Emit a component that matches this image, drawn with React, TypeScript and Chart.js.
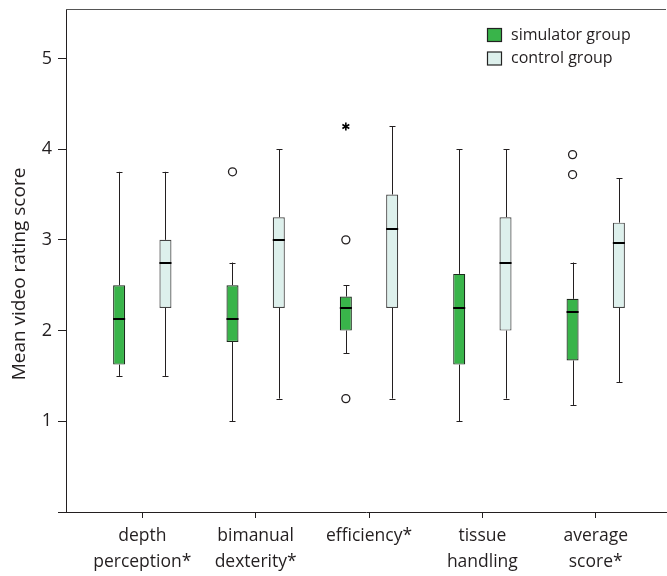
import React, { useEffect, useRef } from 'react';
import { Chart, registerables } from 'chart.js';

Chart.register(...registerables);

// ---- data ----
const categoryLabels: string[][] = [
  ['depth', 'perception*'],
  ['bimanual', 'dexterity*'],
  ['efficiency*'],
  ['tissue', 'handling'],
  ['average', 'score*'],
];
const categoryPositions = [1, 2, 3, 4, 5];
const yTickValues = [0, 1, 2, 3, 4, 5];
const yTickLabels = ['', '1', '2', '3', '4', '5'];
const yAxisTitle = 'Mean video rating score';
const seriesNames = ['simulator group', 'control group'];

// simulator group
const simMin = [1.5, 1.0, 1.75, 1.0, 1.18];
const simQ1 = [1.625, 1.875, 2.0, 1.625, 1.67];
const simMedian = [2.125, 2.125, 2.25, 2.25, 2.2];
const simQ3 = [2.5, 2.5, 2.375, 2.625, 2.35];
const simMax = [3.75, 2.75, 2.5, 4.0, 2.75];
const simOutliers: number[][] = [[], [3.75], [3.0, 1.25], [], [3.94, 3.72]];
const simExtremes: number[][] = [[], [], [4.25], [], []];

// control group
const ctrlMin = [1.5, 1.25, 1.25, 1.25, 1.43];
const ctrlQ1 = [2.25, 2.25, 2.25, 2.0, 2.25];
const ctrlMedian = [2.75, 3.0, 3.125, 2.75, 2.96];
const ctrlQ3 = [3.0, 3.25, 3.5, 3.25, 3.19];
const ctrlMax = [3.75, 4.0, 4.25, 4.0, 3.68];
const ctrlOutliers: number[][] = [[], [], [], [], []];
const ctrlExtremes: number[][] = [[], [], [], [], []];

const FONT = '"Open Sans", "Noto Sans", sans-serif';
const INK = '#231f20';
const SIM_FILL = '#39b44a';
const CTRL_FILL = '#ddf0ec';

const boxPlugin = {
  id: 'boxExtras',
  afterDatasetsDraw(chart: any) {
    const ctx = chart.ctx;
    const ys = chart.scales.y;
    chart.data.datasets.forEach((ds: any, di: number) => {
      const meta = chart.getDatasetMeta(di);
      const st = ds.stats;
      meta.data.forEach((el: any, i: number) => {
        const x = Math.round(el.x) + 0.5;
        const w = el.width;
        const pMin = ys.getPixelForValue(st.min[i]);
        const pQ1 = ys.getPixelForValue(st.q1[i]);
        const pQ3 = ys.getPixelForValue(st.q3[i]);
        const pMax = ys.getPixelForValue(st.max[i]);
        const pMed = ys.getPixelForValue(st.median[i]);
        ctx.save();
        ctx.strokeStyle = INK;
        ctx.lineWidth = 1;
        ctx.beginPath();
        ctx.moveTo(x, pQ3);
        ctx.lineTo(x, pMax);
        ctx.moveTo(x, pQ1);
        ctx.lineTo(x, pMin);
        ctx.moveTo(x - 3, Math.round(pMax) + 0.5);
        ctx.lineTo(x + 3, Math.round(pMax) + 0.5);
        ctx.moveTo(x - 3, Math.round(pMin) + 0.5);
        ctx.lineTo(x + 3, Math.round(pMin) + 0.5);
        ctx.stroke();
        // median
        ctx.lineWidth = 2;
        ctx.strokeStyle = '#000';
        ctx.beginPath();
        ctx.moveTo(el.x - w / 2, Math.round(pMed));
        ctx.lineTo(el.x + w / 2, Math.round(pMed));
        ctx.stroke();
        // outliers
        ctx.lineWidth = 1.3;
        ctx.strokeStyle = INK;
        ctx.fillStyle = '#fff';
        st.outliers[i].forEach((v: number) => {
          const py = ys.getPixelForValue(v);
          ctx.beginPath();
          ctx.arc(el.x, py, 4, 0, Math.PI * 2);
          ctx.fill();
          ctx.stroke();
        });
        // extremes (asterisk)
        ctx.lineWidth = 1.6;
        ctx.strokeStyle = '#000';
        st.extremes[i].forEach((v: number) => {
          const py = ys.getPixelForValue(v);
          ctx.beginPath();
          for (let k = 0; k < 3; k++) {
            const a = Math.PI / 2 + (k * Math.PI) / 3;
            ctx.moveTo(el.x + Math.cos(a) * 4, py - Math.sin(a) * 4);
            ctx.lineTo(el.x - Math.cos(a) * 4, py + Math.sin(a) * 4);
          }
          ctx.stroke();
        });
        ctx.restore();
      });
    });
  },
  afterDraw(chart: any) {
    const ctx = chart.ctx;
    const ca = chart.chartArea;
    ctx.save();
    // top frame line
    ctx.strokeStyle = '#555';
    ctx.lineWidth = 1;
    ctx.beginPath();
    ctx.moveTo(ca.left, Math.round(ca.top) + 0.5);
    ctx.lineTo(ca.right, Math.round(ca.top) + 0.5);
    ctx.stroke();
    // y axis title
    ctx.fillStyle = INK;
    ctx.font = '19px ' + FONT;
    ctx.textAlign = 'center';
    ctx.textBaseline = 'middle';
    ctx.translate(20, 274);
    ctx.rotate(-Math.PI / 2);
    ctx.fillText(yAxisTitle, 0, 0);
    ctx.restore();
    // legend
    ctx.save();
    ctx.font = '16px ' + FONT;
    ctx.textAlign = 'left';
    ctx.textBaseline = 'middle';
    chart.data.datasets.forEach((ds: any, di: number) => {
      const cy = 35 + di * 23.5;
      ctx.fillStyle = ds.backgroundColor;
      ctx.fillRect(487.5, cy - 6.5, 14, 13);
      ctx.strokeStyle = '#222';
      ctx.lineWidth = 1.2;
      ctx.strokeRect(487.5, cy - 6.5, 14, 13);
      ctx.fillStyle = INK;
      ctx.fillText(ds.label, 511, cy);
    });
    ctx.restore();
  },
};

function makeData(q1: number[], q3: number[]) {
  return categoryPositions.map((x, i) => ({ x, y: [q1[i], q3[i]] }));
}

export default function App() {
  const ref = useRef<HTMLCanvasElement>(null);
  useEffect(() => {
    document.body.style.margin = '0';
    const chart = new Chart(ref.current as HTMLCanvasElement, {
      type: 'bar',
      data: {
        datasets: [
          {
            label: seriesNames[0],
            data: makeData(simQ1, simQ3) as any,
            backgroundColor: SIM_FILL,
            borderColor: '#1d2a1d',
            borderWidth: 1.2,
            borderSkipped: false,
            stats: { min: simMin, q1: simQ1, median: simMedian, q3: simQ3, max: simMax, outliers: simOutliers, extremes: simExtremes },
          } as any,
          {
            label: seriesNames[1],
            data: makeData(ctrlQ1, ctrlQ3) as any,
            backgroundColor: CTRL_FILL,
            borderColor: '#444',
            borderWidth: 1.2,
            borderSkipped: false,
            stats: { min: ctrlMin, q1: ctrlQ1, median: ctrlMedian, q3: ctrlQ3, max: ctrlMax, outliers: ctrlOutliers, extremes: ctrlExtremes },
          } as any,
        ],
      },
      options: {
        responsive: false,
        animation: false,
        devicePixelRatio: 1,
        categoryPercentage: 0.817,
        barPercentage: 0.26,
        layout: { padding: { top: 9, right: 1, left: 0, bottom: 0 } },
        plugins: { legend: { display: false }, tooltip: { enabled: false } },
        scales: {
          x: {
            type: 'linear',
            offset: false,
            min: 0.327,
            max: 5.62,
            afterFit: (s: any) => { s.height = 64; s.paddingLeft = 0; s.paddingRight = 0; },
            afterBuildTicks: (s: any) => { s.ticks = categoryPositions.map((v) => ({ value: v })); },
            grid: { offset: false, drawOnChartArea: false, drawTicks: true, tickLength: 6, color: INK, tickWidth: 1 },
            border: { display: true, color: INK, width: 1 },
            ticks: {
              color: INK,
              padding: 6,
              maxRotation: 0,
              autoSkip: false,
              font: { family: FONT, size: 17.5, lineHeight: 1.43 },
              callback: (v: any) => categoryLabels[categoryPositions.indexOf(Number(v))] ?? '',
            },
          },
          y: {
            type: 'linear',
            min: 0,
            max: 5.545,
            afterFit: (s: any) => { s.width = 66; s.paddingTop = 0; s.paddingBottom = 0; },
            afterBuildTicks: (s: any) => { s.ticks = yTickValues.map((v) => ({ value: v })); },
            grid: { drawOnChartArea: false, drawTicks: true, tickLength: 8, color: INK, tickWidth: 1 },
            border: { display: true, color: INK, width: 1 },
            ticks: {
              color: INK,
              padding: 6,
              font: { family: FONT, size: 18 },
              callback: (v: any) => yTickLabels[yTickValues.indexOf(Number(v))] ?? '',
            },
          },
        },
      } as any,
      plugins: [boxPlugin],
    });
    return () => chart.destroy();
  }, []);
  return (
    <div style={{ width: 667, height: 576, background: '#fff' }}>
      <canvas ref={ref} width={667} height={576} />
    </div>
  );
}
